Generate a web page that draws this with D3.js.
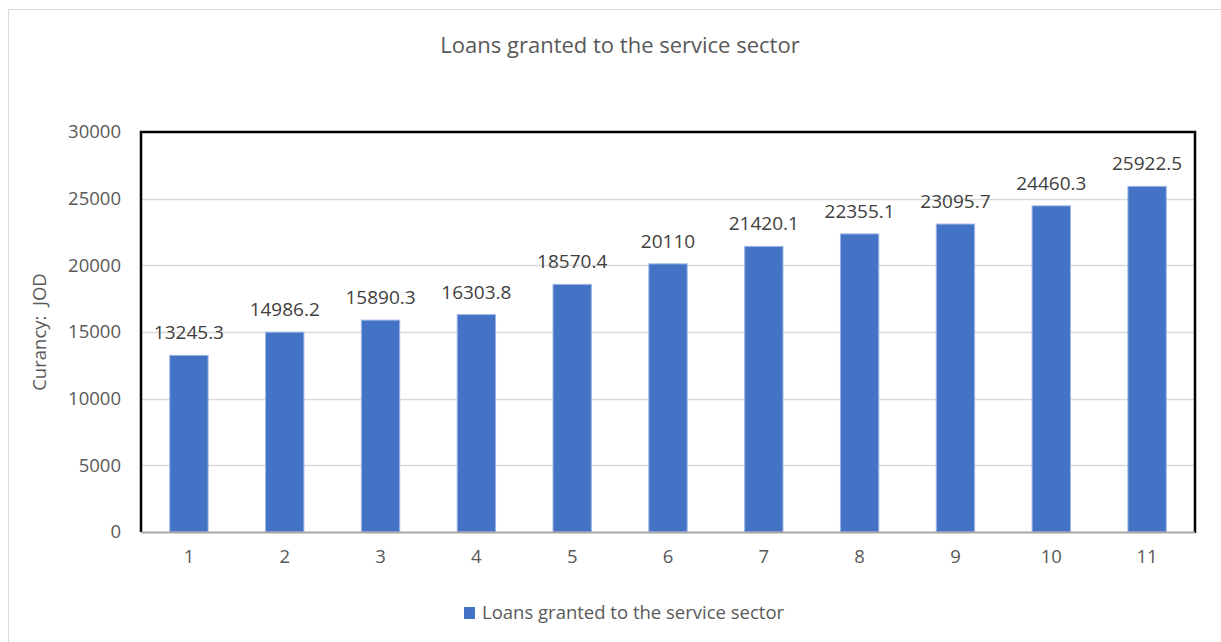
<!DOCTYPE html>
<html>
<head>
<meta charset="utf-8">
<script src="https://cdn.jsdelivr.net/npm/d3@7"></script>
<style>
  html, body { margin: 0; padding: 0; background: #fff; }
  svg { display: block; font-family: "Open Sans", sans-serif; }
</style>
</head>
<body>
<div id="chart"></div>
<script>
// Chart data
const categories = ['1', '2', '3', '4', '5', '6', '7', '8', '9', '10', '11'];
const values = [13245.3, 14986.2, 15890.3, 16303.8, 18570.4, 20110, 21420.1, 22355.1, 23095.7, 24460.3, 25922.5];
const valueLabels = ['13245.3', '14986.2', '15890.3', '16303.8', '18570.4', '20110', '21420.1', '22355.1', '23095.7', '24460.3', '25922.5'];
const yTicks = [0, 5000, 10000, 15000, 20000, 25000, 30000];
const seriesName = 'Loans granted to the service sector';
const yTitle = 'Curancy:  JOD';

const W = 1221, H = 642;
const plot = { left: 141, right: 1195, top: 132, bottom: 532 };
const textColor = '#595959';
const barColor = '#4472c4';

const svg = d3.select('#chart').append('svg')
  .attr('width', W)
  .attr('height', H);

// outer chart border
svg.append('path')
  .attr('d', `M${W + 5},9.5 H8.5 V${H + 5}`)
  .attr('fill', 'none')
  .attr('stroke', '#d9d9d9')
  .attr('stroke-width', 1);

// Title
svg.append('text')
  .text(seriesName)
  .attr('x', 620)
  .attr('y', 53)
  .attr('text-anchor', 'middle')
  .attr('fill', textColor)
  .attr('font-size', '22px');

const x = d3.scaleBand()
  .domain(categories)
  .range([plot.left, plot.right])
  .paddingInner(0.6)
  .paddingOuter(0.3);

const y = d3.scaleLinear()
  .domain([0, 30000])
  .range([plot.bottom, plot.top]);

// Gridlines
svg.append('g')
  .selectAll('line')
  .data(yTicks.filter(d => d > 0 && d < 30000))
  .join('line')
  .attr('x1', plot.left)
  .attr('x2', plot.right)
  .attr('y1', d => Math.round(y(d)) + 0.5)
  .attr('y2', d => Math.round(y(d)) + 0.5)
  .attr('stroke', '#d9d9d9')
  .attr('stroke-width', 1.5);

// Y tick labels
const yAxis = d3.axisLeft(y).tickValues(yTicks).tickFormat(d3.format('d')).tickSize(0).tickPadding(20);
const yg = svg.append('g')
  .attr('transform', `translate(${plot.left},0)`)
  .call(yAxis);
yg.select('.domain').remove();
yg.selectAll('text')
  .attr('fill', textColor)
  .attr('font-size', '18.5px')
  .attr('font-family', '"Open Sans", sans-serif');

// X tick labels
const xAxis = d3.axisBottom(x).tickSize(0).tickPadding(18);
const xg = svg.append('g')
  .attr('transform', `translate(0,${plot.bottom})`)
  .call(xAxis);
xg.select('.domain').remove();
xg.selectAll('text')
  .attr('fill', textColor)
  .attr('font-size', '18.5px')
  .attr('font-family', '"Open Sans", sans-serif');

// Bars
svg.append('g')
  .selectAll('rect')
  .data(values)
  .join('rect')
  .attr('x', (d, i) => x(categories[i]))
  .attr('y', d => y(d))
  .attr('width', x.bandwidth())
  .attr('height', d => y(0) - y(d))
  .attr('fill', barColor)
  .attr('stroke', '#9db5e3')
  .attr('stroke-width', 1);

// Value labels
svg.append('g')
  .selectAll('text')
  .data(values)
  .join('text')
  .text((d, i) => valueLabels[i])
  .attr('x', (d, i) => x(categories[i]) + x.bandwidth() / 2)
  .attr('y', d => y(d) - 16)
  .attr('text-anchor', 'middle')
  .attr('fill', '#404040')
  .attr('font-size', '19px');

// Plot frame (black) and category axis line (grey)
svg.append('path')
  .attr('d', `M${plot.left},${plot.bottom} V${plot.top} H${plot.right} V${plot.bottom + 1}`)
  .attr('fill', 'none')
  .attr('stroke', '#000')
  .attr('stroke-width', 2.5);
svg.append('line')
  .attr('x1', plot.left)
  .attr('x2', plot.right)
  .attr('y1', plot.bottom + 0.5)
  .attr('y2', plot.bottom + 0.5)
  .attr('stroke', '#a6a6a6')
  .attr('stroke-width', 2);

// Y axis title
svg.append('text')
  .text(yTitle)
  .attr('transform', `translate(46,${(plot.top + plot.bottom) / 2}) rotate(-90)`)
  .attr('text-anchor', 'middle')
  .attr('fill', textColor)
  .attr('font-size', '18.5px')
  .style('white-space', 'pre');

// Legend
const legend = svg.append('g').attr('transform', 'translate(464,607)');
legend.append('rect')
  .attr('width', 11)
  .attr('height', 12)
  .attr('fill', barColor);
legend.append('text')
  .text(seriesName)
  .attr('x', 18)
  .attr('y', 12)
  .attr('fill', textColor)
  .attr('font-size', '18.5px');
</script>
</body>
</html>
